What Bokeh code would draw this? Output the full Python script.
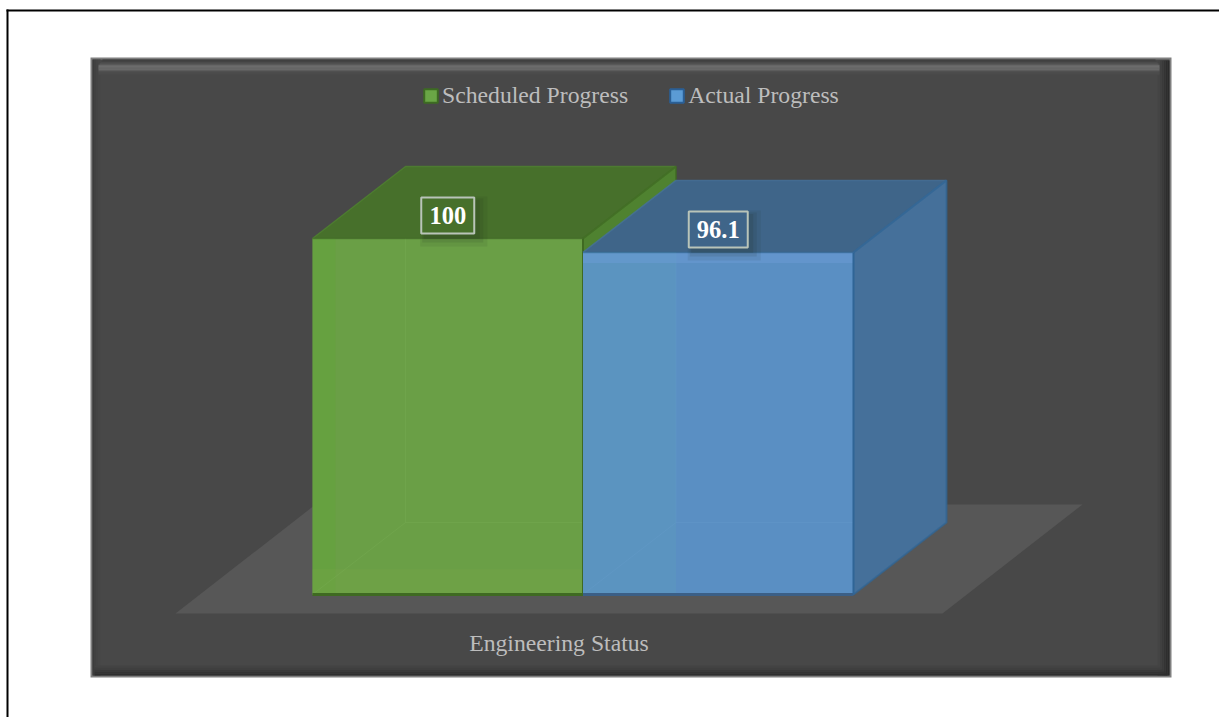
from bokeh.plotting import figure
from bokeh.models import Range1d, Legend, LegendItem, LinearAxis, FixedTicker, ColumnDataSource
from bokeh.core.properties import value
from bokeh.embed import file_html
from bokeh.resources import INLINE

# ---- data ----
series = ["Scheduled Progress", "Actual Progress"]
values = [100, 96.1]
value_labels = ["100", "96.1"]
category = "Engineering Status"

front_colors = ["#6A9F46", "#5A8FC3"]
top_colors = ["#47702B", "#3F6589"]
side_colors = ["#4F8230", "#45709A"]
edge_colors = ["#3F6A22", "#2F6596"]
legend_fill = ["#6AA646", "#5B9BD5"]
legend_line = ["#3D6B22", "#2A5F96"]

W, H = 1219, 717
PX_PER_X = 270.5
PX_PER_Y = 3.56
X0_PX, Y0_PX = 312.0, 594.0
DEPTH_X, DEPTH_Y = 93 / PX_PER_X, 72 / PX_PER_Y
LABEL_UP = 23 / PX_PER_Y
BAR_W = 1.0


def X(px):
    return (px - X0_PX) / PX_PER_X


def Y(px):
    return (Y0_PX - px) / PX_PER_Y


p = figure(width=W, height=H, output_backend="svg", toolbar_location=None,
           x_range=Range1d(X(0), X(W)), y_range=Range1d(Y(H), Y(0)),
           min_border=0, outline_line_color=None, background_fill_color="white",
           border_fill_color="white")
p.xaxis.visible = False
p.yaxis.visible = False
p.grid.visible = False


def box(x0, x1, y0, y1, color, alpha=1.0):
    p.quad(left=[X(x0)], right=[X(x1)], top=[Y(y0)], bottom=[Y(y1)],
           fill_color=color, fill_alpha=alpha, line_color=None)


# page rule lines
box(6, 8, 9, H, "#000000")
box(6, W, 9, 11, "#000000")

# chart panel with its bevel
PL, PR, PT, PB = 90, 1171, 57, 677
box(PL, PR, PT, PB, "#7F7F7F")
box(PL + 2, PR - 2, PT + 2, PB - 2, "#484848")
for i, c in enumerate(["#3C3C3C", "#414141", "#444444", "#464646"]):      # left
    box(PL + 2 + i * 2, PL + 4 + i * 2, PT + 2, PB - 2, c)
for i, c in enumerate(["#2B2B2B", "#2E2E2E", "#343434", "#3A3A3A", "#404040", "#444444"]):  # right
    box(PR - 4 - i * 2, PR - 2 - i * 2, PT + 3, PB - 2, c)
for i, c in enumerate(["#2E2E2E", "#333333", "#393939", "#3F3F3F", "#434343"]):  # bottom
    box(PL + 4, PR - 4 - i * 2, PB - 4 - i * 2, PB - 2 - i * 2, c)
for i, c in enumerate(["#3F3F3F", "#434343", "#4B4B4B", "#585858", "#666666", "#6C6C6C",
                       "#6E6E6E", "#686868", "#5C5C5C", "#525252", "#4C4C4C", "#494949"]):  # top
    box(PL + 8 + max(0, 4 - i), PR - 12 - max(0, 4 - i), PT + 2 + i * 1.3, PT + 3.4 + i * 1.3, c)

# floor
p.patch([X(175), X(942), X(1082), X(315)], [Y(613), Y(613), Y(504), Y(504)],
        fill_color="#575757", line_color=None)

# boxes, painted back to front
for i, v in enumerate(values):
    xl, xr = i, i + BAR_W
    # hidden side, then top
    p.patch([xr, xr + DEPTH_X, xr + DEPTH_X, xr], [v, v + DEPTH_Y, DEPTH_Y, 0],
            fill_color=side_colors[i], line_color=None)
    p.patch([xl, xl + DEPTH_X, xr + DEPTH_X, xr], [v, v + DEPTH_Y, v + DEPTH_Y, v],
            fill_color=top_colors[i], line_color=None)
    p.line([xl, xl + DEPTH_X, xr + DEPTH_X, xr], [v, v + DEPTH_Y, v + DEPTH_Y, v],
           line_color=side_colors[i], line_width=1.5, line_alpha=0.8)
    p.line([xr, xr + DEPTH_X, xr + DEPTH_X, xr], [0, DEPTH_Y, v + DEPTH_Y, v],
           line_color=edge_colors[i], line_width=2, line_alpha=0.7)
    # front
    p.quad(left=[xl], right=[xr], top=[v], bottom=[0], fill_color=front_colors[i], line_color=None)
    # front shading (left strip, lower strip, upper strip)
    if i == 0:
        p.quad(left=[xl], right=[xl + 0.085], top=[v], bottom=[0], fill_color="#62A636", fill_alpha=0.4, line_color=None)
        p.quad(left=[xl], right=[xr], top=[DEPTH_Y * 0.35], bottom=[0], fill_color="#78A548", fill_alpha=0.3, line_color=None)
    else:
        p.quad(left=[xl], right=[xl + DEPTH_X], top=[v], bottom=[0], fill_color="#5C9ABE", fill_alpha=0.5, line_color=None)
        p.quad(left=[xl], right=[xr], top=[v], bottom=[v - 3], fill_color="#6B9BD6", fill_alpha=0.5, line_color=None)
    # edges seen through the front
    p.line([xl + DEPTH_X, xl + DEPTH_X, xr], [v, DEPTH_Y, DEPTH_Y],
           line_color="#7FB25A" if i == 0 else "#6C9FD0", line_width=1, line_alpha=0.25)
    p.line([xl, xl + DEPTH_X], [0, DEPTH_Y], line_color="#7FB25A" if i == 0 else "#6C9FD0",
           line_width=1, line_alpha=0.25)
    p.line([xl, xr], [0, 0], line_color=edge_colors[i] if i == 0 else "#3B5F86", line_width=3)
    p.line([xr, xr], [0, v], line_color=edge_colors[i], line_width=2)
    p.line([xl, xr], [v, v], line_color=edge_colors[i], line_width=1.5, line_alpha=0.6)

# data labels with box and soft shadow
label_src = ColumnDataSource(dict(
    x=[i + BAR_W / 2 for i in range(len(values))],
    y=[v + LABEL_UP for v in values],
    text=value_labels,
    w=[53, 59],
    fill=top_colors,
))
for off, alpha, grow in [(6, 0.08, 14), (5, 0.10, 8), (4, 0.12, 3)]:
    p.rect(x=[a + off / PX_PER_X for a in label_src.data["x"]],
           y=[b - off / PX_PER_Y for b in label_src.data["y"]],
           width=[w + grow for w in label_src.data["w"]], height=36 + grow,
           width_units="screen", height_units="screen",
           fill_color="#1E2A1E", fill_alpha=alpha, line_color=None)
p.rect(x="x", y="y", width="w", height=36, width_units="screen", height_units="screen",
       source=label_src, fill_color="fill", line_color="#B9C4B9", line_width=2)
p.text(x="x", y="y", text="text", source=label_src, text_align="center", text_baseline="middle",
       text_color="#FFFFFF", text_font=value("Liberation Serif"), text_font_style="bold",
       text_font_size="24.5px")

# category axis inside the panel
ax = LinearAxis(fixed_location=Y(623), ticker=FixedTicker(ticks=[X(558.5)]),
                major_label_overrides={X(558.5): category},
                axis_line_color=None, major_tick_line_color=None, minor_tick_line_color=None,
                major_label_text_font="Liberation Serif", major_label_text_font_size="23.7px",
                major_label_text_color="#BDBDBD", major_label_standoff=0)
p.add_layout(ax, "below")

# legend
nan = float("nan")
proxies = [p.quad(left=[nan], right=[nan], top=[nan], bottom=[nan], fill_color=legend_fill[i],
                  line_color=legend_line[i], line_width=2) for i in range(len(series))]
legend = Legend(items=[LegendItem(label=value(s), renderers=[r]) for s, r in zip(series, proxies)],
                orientation="horizontal", location=(422, H - 109), background_fill_alpha=0,
                border_line_color=None, padding=0, margin=0, spacing=40, glyph_width=17, glyph_height=17,
                label_standoff=3, label_text_font="Liberation Serif", label_text_font_size="23.7px",
                label_text_color="#BDBDBD")
p.add_layout(legend, "center")

open("out.html", "w").write(file_html(p, INLINE))
